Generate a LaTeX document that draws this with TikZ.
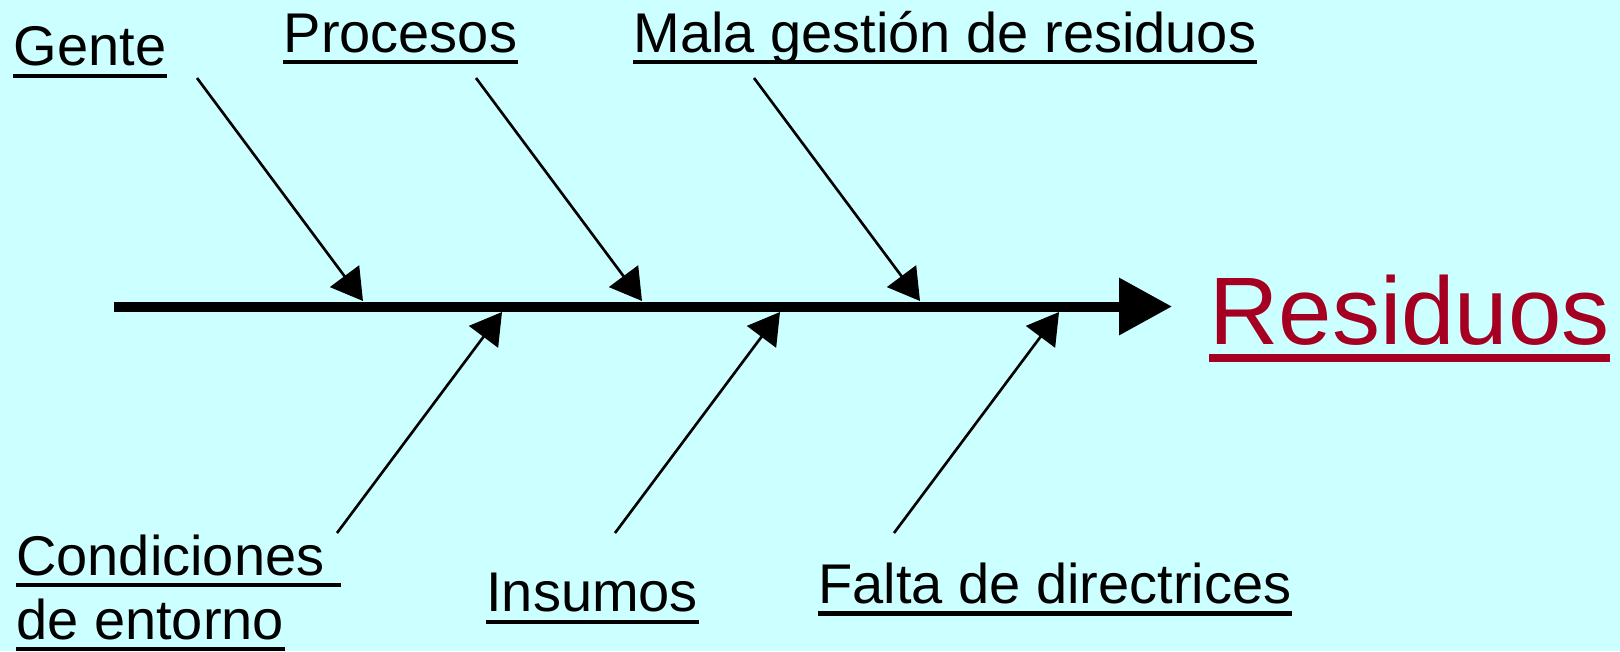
\documentclass[tikz,border=0pt]{standalone}
\usepackage{fontspec}
\setmainfont{Liberation Sans}
\usetikzlibrary{arrows.meta}
\definecolor{bgcyan}{RGB}{204,255,255}
\definecolor{effectred}{RGB}{165,0,33}
\tikzset{
  cause/.style={inner sep=0pt, anchor=base west, font=\fontsize{15.93pt}{19pt}\selectfont},
  bone/.style={line width=0.75pt, -{Triangle[length=3.1mm,width=3.6mm]}},
  spine/.style={line width=2.85pt, -{Triangle[length=5.3mm,width=5.5mm]}},
  uline/.style={line width=1.25pt},
}

\begin{document}
\begin{tikzpicture}
      \fill[bgcyan] (0,0) rectangle (16.2,6.51);
      \useasboundingbox (0,0) rectangle (16.2,6.51);
      % spine and effect
      \coordinate (tail) at (1.14,3.445);
      \coordinate (head) at (11.72,3.445);
      \draw[spine] (tail) -- (head);
      \node[inner sep=0pt, anchor=base west, text=effectred, font=\fontsize{27.3pt}{32pt}\selectfont] (residuos) at (12.09,3.07) {Residuos};
      \draw[effectred, line width=2pt] ([yshift=-1.4mm]residuos.base west) -- ([yshift=-1.4mm]residuos.base east);
      % causes
      \node[cause] (gente) at (0.13,5.853) {Gente};
      \node[cause] (procesos) at (2.83,5.99) {Procesos};
      \node[cause] (mala) at (6.33,5.99) {Mala gestión de residuos};
      \node[cause] (condA) at (0.156,0.76) {Condiciones\ \mbox{}};
      \node[cause] (condB) at (0.156,0.12) {de entorno};
      \node[cause] (insumos) at (4.857,0.393) {Insumos};
      \node[cause] (falta) at (8.179,0.477) {Falta de directrices};
      \foreach \n in {gente,procesos,mala,condA,condB,insumos,falta}
        \draw[uline] ([yshift=-1mm]\n.base west) -- ([yshift=-1mm]\n.base east);
      % bones
      \coordinate (gente-s) at (1.97,5.73);
      \coordinate (gente-t) at (3.63,3.50);
      \coordinate (procesos-s) at (4.76,5.73);
      \coordinate (procesos-t) at (6.42,3.50);
      \coordinate (mala-s) at (7.54,5.73);
      \coordinate (mala-t) at (9.20,3.50);
      \coordinate (cond-s) at (3.37,1.18);
      \coordinate (cond-t) at (5.02,3.39);
      \coordinate (insumos-s) at (6.15,1.18);
      \coordinate (insumos-t) at (7.80,3.39);
      \coordinate (falta-s) at (8.94,1.18);
      \coordinate (falta-t) at (10.59,3.39);
      \foreach \b in {gente,procesos,mala,cond,insumos,falta}
        \draw[bone] (\b-s) -- (\b-t);
\end{tikzpicture}
\end{document}
